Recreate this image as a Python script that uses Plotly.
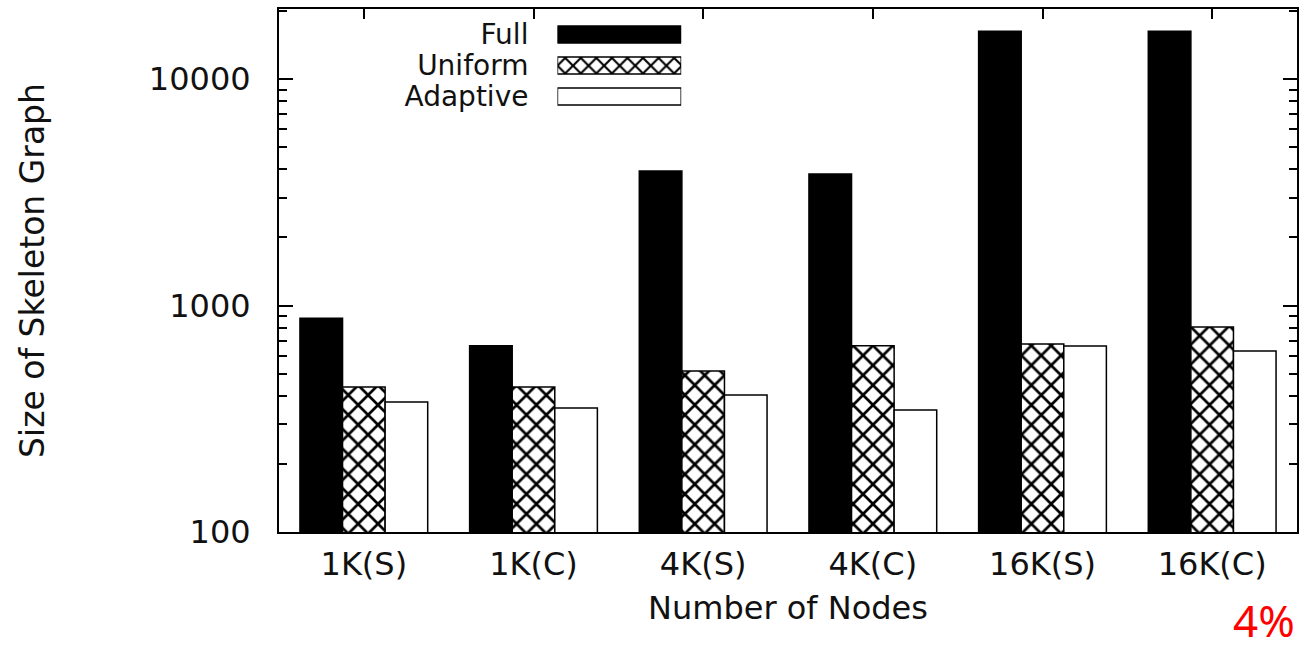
import plotly.graph_objects as go

categories = ["1K(S)", "1K(C)", "4K(S)", "4K(C)", "16K(S)", "16K(C)"]
full = [880, 665, 3930, 3810, 16300, 16300]
uniform = [437, 437, 514, 665, 676, 804]
adaptive = [375, 353, 403, 346, 663, 630]

series_names = ["Full", "Uniform", "Adaptive"]
major_ticks = [100, 1000, 10000]
major_labels = ["100", "1000", "10000"]
minor_ticks = [m * d for d in (100, 1000, 10000) for m in range(2, 10)]

FONT = "DejaVu Sans"
fs = 32

line = dict(color="black", width=1.5)


def hatch(size):
    return dict(shape="x", fgcolor="#000000", bgcolor="#ffffff", fgopacity=1,
                fillmode="replace", size=size, solidity=0.35)


styles = {
    "Full": dict(color="black", line=line),
    "Uniform": dict(color="white", line=line, pattern=hatch(14)),
    "Adaptive": dict(color="white", line=line),
}
legend_styles = {
    "Full": dict(color="black", line=line),
    "Uniform": dict(color="white", line=line, pattern=hatch(11)),
    "Adaptive": dict(color="white", line=line),
}
values = {"Full": full, "Uniform": uniform, "Adaptive": adaptive}

fig = go.Figure()
for name in series_names:
    fig.add_trace(go.Bar(x=categories, y=values[name], name=name,
                         marker=styles[name], showlegend=False))

# legend swatches drawn as a small overlay bar chart
for name in series_names:
    fig.add_trace(go.Bar(y=[name], x=[1], orientation="h", width=0.55,
                         offsetgroup="legend", xaxis="x2", yaxis="y2",
                         showlegend=False, hoverinfo="skip",
                         marker=legend_styles[name]))

W, H = 1300, 651
L, R, T, B = 279, 1, 9, 119
pw = W - L - R
ph = H - T - B


def px_x(x):
    return (x - L) / pw


def px_y(y):
    return (H - B - y) / ph


fig.update_layout(
    width=W, height=H,
    margin=dict(l=L, r=R, t=T, b=B, pad=0),
    paper_bgcolor="white", plot_bgcolor="white",
    barmode="group", bargap=0.247, bargroupgap=0,
    font=dict(family=FONT, size=fs, color="#111"),
    xaxis=dict(type="category", range=[-0.5, 5.5], showline=True, linecolor="black",
               linewidth=2, mirror="allticks", ticks="inside", ticklen=10, tickwidth=1.5,
               tickcolor="black", layer="below traces", showgrid=False,
               tickfont=dict(family=FONT, size=fs, color="#111"), ticklabelstandoff=3,
               title=dict(text="Number of Nodes", font=dict(family=FONT, size=fs, color="#111"),
                          standoff=14)),
    yaxis=dict(type="log", range=[2, 4.31], showline=True, linecolor="black", linewidth=2,
               mirror="allticks", ticks="inside", ticklen=14, tickwidth=1.5, tickcolor="black",
               tickmode="array", tickvals=major_ticks, ticktext=major_labels, showgrid=False,
               tickfont=dict(family=FONT, size=fs, color="#111"), ticklabelstandoff=20,
               minor=dict(tickmode="array", tickvals=minor_ticks, ticks="inside", ticklen=8,
                          tickwidth=1.5, tickcolor="black", showgrid=False),
               title=dict(text="Size of Skeleton Graph",
                          font=dict(family=FONT, size=33, color="#111"), standoff=94)),
    xaxis2=dict(domain=[px_x(558), px_x(682)], range=[0, 1], anchor="y2", visible=False,
                fixedrange=True),
    yaxis2=dict(domain=[px_y(112), px_y(19)], anchor="x2", type="category",
                categoryorder="array", categoryarray=series_names,
                autorange="reversed", showline=False, ticks="", showgrid=False,
                tickmode="array", tickvals=series_names, ticktext=series_names,
                tickfont=dict(family=FONT, size=28, color="#111"), ticklabelstandoff=28,
                fixedrange=True),
    annotations=[dict(text="4%", xref="paper", yref="paper", x=px_x(1298), y=px_y(651),
                      xanchor="right", yanchor="bottom", showarrow=False, borderpad=0,
                      font=dict(family="Noto Sans", size=44, color="red"))],
)

fig.write_html("out.html", config={"displayModeBar": False},
               post_script="document.body.style.margin='0';")
